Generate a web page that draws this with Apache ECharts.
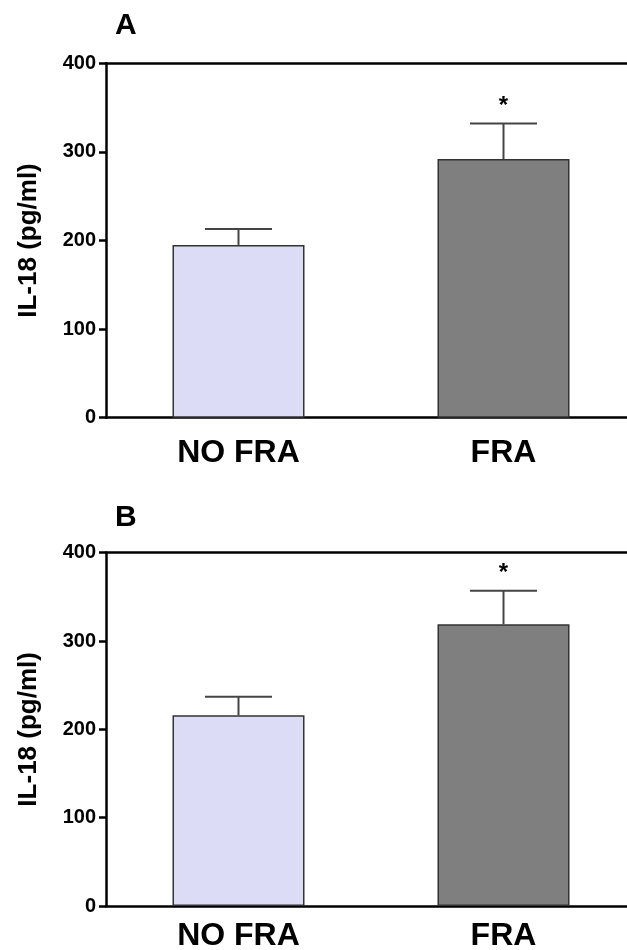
<!DOCTYPE html>
<html>
<head>
<meta charset="utf-8">
<script src="https://cdn.jsdelivr.net/npm/echarts@6/dist/echarts.min.js"></script>
<style>
html, body { margin: 0; padding: 0; background: #fff; }
#chart { width: 627px; height: 950px; }
</style>
</head>
<body>
<div id="chart"></div>
<script>
var categories = ['NO FRA', 'FRA'];

// panel A
var meanA = [195, 292];
var upperA = [213, 332];
// panel B
var meanB = [216, 319];
var upperB = [237, 357];
var signif = ['', '*'];

var barColors = ['#dcdcf7', '#7f7f7f'];
var font = 'Liberation Sans, Arial, sans-serif';

var chart = echarts.init(document.getElementById('chart'), null, {renderer: 'canvas'});

function errorData(mean, upper) {
    return mean.map(function (m, i) { return [i, m, upper[i], signif[i]]; });
}

function renderError(params, api) {
    var x = api.value(0);
    var top = api.coord([x, api.value(1)]);
    var cap = api.coord([x, api.value(2)]);
    var half = 33.5;
    var style = {stroke: '#444', lineWidth: 2};
    var children = [
        {type: 'line', shape: {x1: top[0], y1: top[1], x2: cap[0], y2: cap[1]}, style: style},
        {type: 'line', shape: {x1: cap[0] - half, y1: cap[1], x2: cap[0] + half, y2: cap[1]}, style: style}
    ];
    var star = api.value(3);
    if (star) {
        children.push({
            type: 'text',
            style: {
                text: star, x: cap[0], y: cap[1] - 17,
                align: 'center', verticalAlign: 'middle',
                font: 'bold 24px ' + font, fill: '#000'
            }
        });
    }
    return {type: 'group', children: children};
}

function yAxisFor(gridIndex) {
    return {
        gridIndex: gridIndex,
        type: 'value',
        min: 0, max: 400, interval: 100,
        name: 'IL-18 (pg/ml)',
        nameLocation: 'middle',
        nameRotate: 90,
        nameGap: 64,
        nameTextStyle: {fontFamily: font, fontWeight: 'bold', fontSize: 26, color: '#000'},
        axisLine: {show: true, lineStyle: {color: '#000', width: 2.5}},
        axisTick: {show: true, length: 7, lineStyle: {color: '#000', width: 2.5}},
        axisLabel: {
            fontFamily: font, fontWeight: 'bold', fontSize: 20, color: '#000', margin: 10
        },
        splitLine: {show: false}
    };
}

function xAxisFor(gridIndex, margin) {
    return {
        gridIndex: gridIndex,
        type: 'category',
        data: categories,
        axisLine: {show: true, lineStyle: {color: '#000', width: 2.5}},
        axisTick: {show: false},
        axisLabel: {fontFamily: font, fontWeight: 'bold', fontSize: 32, color: '#000', margin: margin}
    };
}

function topLine(gridIndex) {
    return {
        gridIndex: gridIndex,
        type: 'category',
        position: 'top',
        data: categories,
        axisLine: {show: true, lineStyle: {color: '#000', width: 2.5}},
        axisTick: {show: false},
        axisLabel: {show: false}
    };
}

function barSeries(idx, mean) {
    return {
        type: 'bar',
        xAxisIndex: idx * 2, yAxisIndex: idx,
        barWidth: 132,
        data: mean.map(function (v, i) {
            return {value: v, itemStyle: {color: barColors[i]}};
        }),
        itemStyle: {borderColor: '#333', borderWidth: 1.5},
        silent: true
    };
}

function errSeries(idx, mean, upper) {
    return {
        type: 'custom',
        xAxisIndex: idx * 2, yAxisIndex: idx,
        renderItem: renderError,
        data: errorData(mean, upper),
        z: 5,
        silent: true
    };
}

chart.setOption({
    animation: false,
    backgroundColor: '#fff',
    title: [
        {text: 'A', left: 110, top: 6, textStyle: {fontFamily: font, fontWeight: 'bold', fontSize: 30, color: '#000'}},
        {text: 'B', left: 110, top: 498, textStyle: {fontFamily: font, fontWeight: 'bold', fontSize: 30, color: '#000'}}
    ],
    grid: [
        {left: 106, top: 63.3, width: 530, height: 354.4, outerBoundsMode: 'none'},
        {left: 106, top: 552.7, width: 530, height: 353.3, outerBoundsMode: 'none'}
    ],
    xAxis: [xAxisFor(0, 19), topLine(0), xAxisFor(1, 14), topLine(1)],
    yAxis: [yAxisFor(0), yAxisFor(1)],
    series: [
        barSeries(0, meanA),
        errSeries(0, meanA, upperA),
        barSeries(1, meanB),
        errSeries(1, meanB, upperB)
    ]
});
</script>
</body>
</html>
